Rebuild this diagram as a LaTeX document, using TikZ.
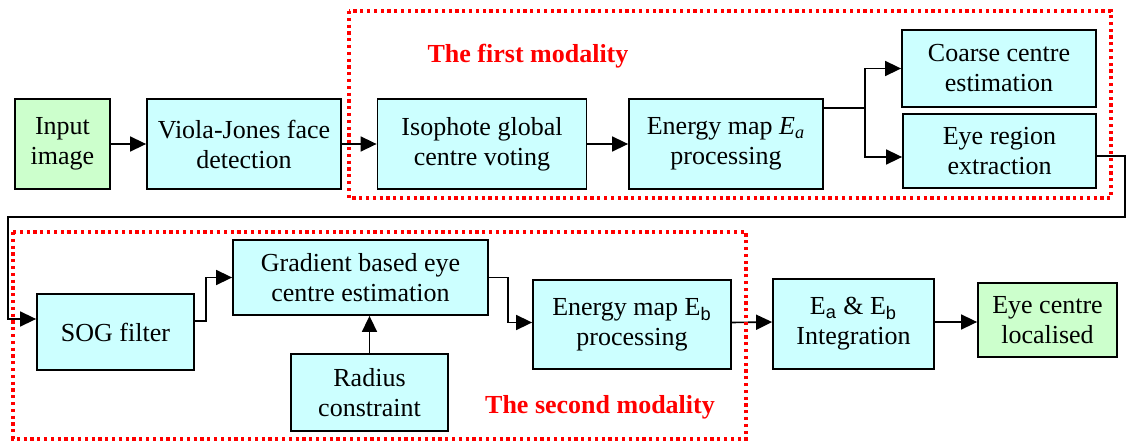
\documentclass[tikz,border=0pt]{standalone}
\usepackage{fontspec}
\setmainfont{Liberation Serif}
\newfontfamily\subfont{Liberation Sans}
\usetikzlibrary{arrows.meta}

\definecolor{boxcyan}{HTML}{CCFFFF}
\definecolor{boxgreen}{HTML}{CCFFCC}
\newcommand{\Esub}[1]{E\textsubscript{\subfont #1}}

\begin{document}
\begin{tikzpicture}[x=0.5pt,y=-0.5pt,font=\fontsize{13}{15}\selectfont,
  blk/.style={draw,line width=0.9pt,fill=boxcyan,align=center,inner sep=0pt,
    minimum width=#1},
  endblk/.style={blk=#1,fill=boxgreen},
  arr/.style={line width=0.8pt,-{Triangle[length=8pt,width=7.5pt]}},
  modal/.style={draw=red,line width=1.6pt,dash pattern=on 1.6pt off 1.8pt},
  mlbl/.style={text=red,font=\fontsize{13}{15}\selectfont\bfseries}]

\useasboundingbox (0,0) rectangle (1131,444);

% ---------- top row ----------
\node[endblk=47.5pt,minimum height=45pt] (inp) at (62.5,144) {Input\\image};
\node[blk=97pt,minimum height=45pt] (vj) at (244,144) {Viola-Jones face\\detection};
\node[blk=104.5pt,minimum height=45pt] (iso) at (482,144) {Isophote global\\centre voting};
\node[blk=97pt,minimum height=45pt] (ea) at (726,144) {Energy map \textit{E}\textsubscript{\textit{a}}\\processing};
\node[blk=97pt,minimum height=38.5pt] (coarse) at (999,68.5) {Coarse centre\\estimation};
\node[blk=96.5pt,minimum height=37pt] (eyereg) at (999.5,151) {Eye region\\extraction};

% ---------- bottom row ----------
\node[blk=78.5pt,minimum height=38pt] (sog) at (115.5,332) {SOG filter};
\node[blk=127.5pt,minimum height=37.5pt] (grad) at (360.5,277.5) {Gradient based eye\\centre estimation};
\node[blk=78.5pt,minimum height=38.5pt] (rad) at (369.5,392.5) {Radius\\constraint};
\node[blk=99pt,minimum height=44.5pt] (eb) at (632,324.5) {Energy map \Esub{b}\\processing};
\node[blk=80.5pt,minimum height=45pt] (integ) at (853.5,324) {\Esub{a} \& \Esub{b}\\Integration};
\node[endblk=69.5pt,minimum height=37pt] (loc) at (1047.5,320) {Eye centre\\localised};

% ---------- connectors ----------
\coordinate (fork) at (865,108);
\coordinate (loopR) at (1125,217);
\coordinate (loopL) at (8,217);

\draw[arr] (inp) -- (vj);
\draw[arr] (vj) -- (iso);
\draw[arr] (iso) -- (ea);
\draw[line width=0.8pt] (ea.east |- fork) -- (fork);
\draw[arr] (fork) |- (coarse.west);
\draw[arr] (fork) |- ([yshift=-3pt]eyereg.west);
\draw[arr] ([yshift=-2.5pt]eyereg.east) -| (loopR) -- (loopL) |- ([yshift=6.5pt]sog.west);
\draw[arr] ([yshift=5.5pt]sog.east) -- ++(11,0) |- (grad.west);
\draw[arr] (rad) -- (rad |- grad.south);
\draw[arr] (grad.east) -- ++(19,0) |- ([yshift=1pt]eb.west);
\draw[arr] ([yshift=1pt]eb.east) -- (integ.west |- 0,322);
\draw[arr] (integ.east |- 0,322) -- (loc.west |- 0,322);

% ---------- modalities ----------
\draw[modal] (349,11) rectangle (1111,198);
\node[mlbl] (m1) at (528,56) {The first modality};
\draw[modal] (13,232) rectangle (746,439);
\node[mlbl] (m2) at (600,407) {The second modality};
\end{tikzpicture}
\end{document}
